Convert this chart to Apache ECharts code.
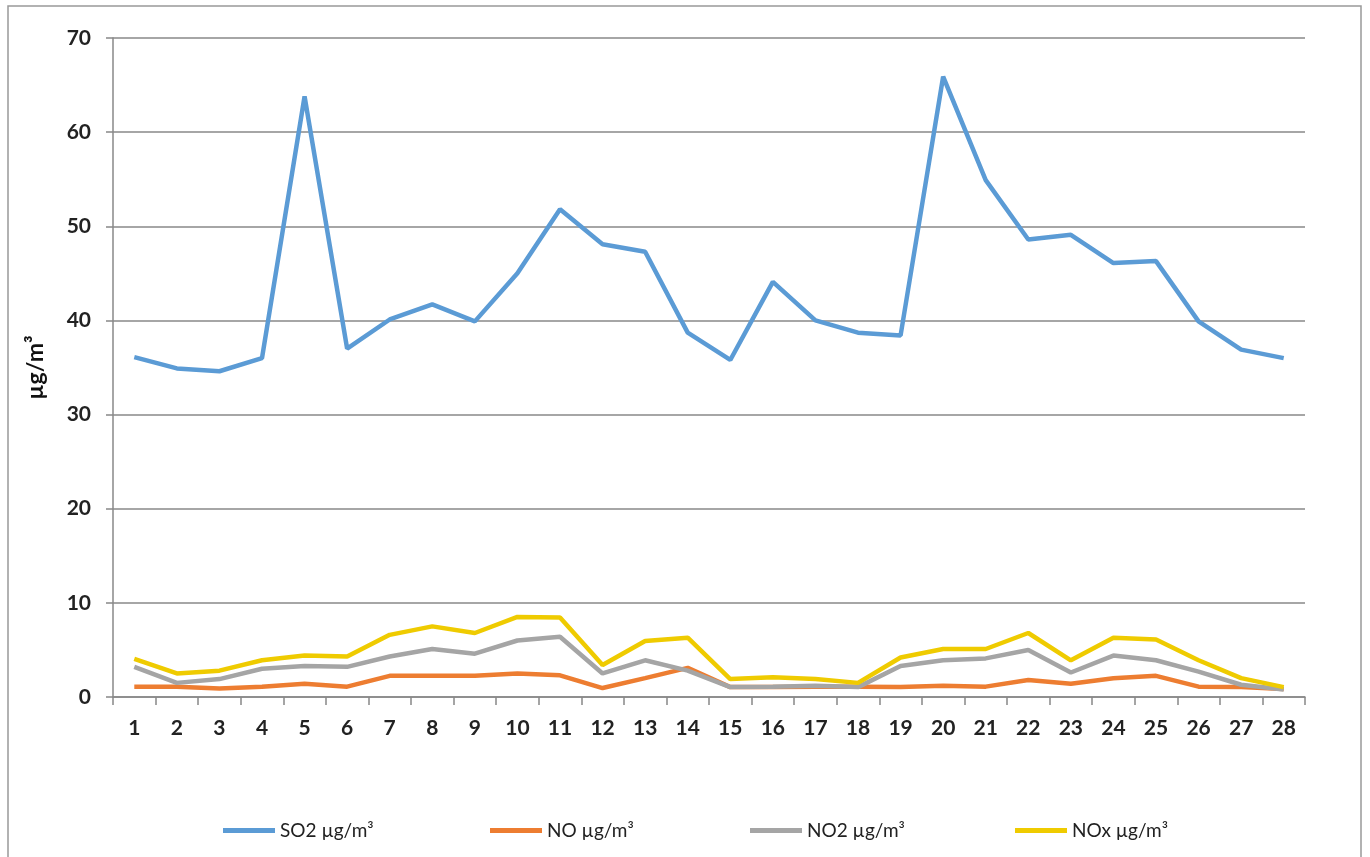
<!DOCTYPE html>
<html>
<head>
<meta charset="utf-8">
<script src="https://cdn.jsdelivr.net/npm/echarts@6/dist/echarts.min.js"></script>
<style>
  html, body { margin: 0; padding: 0; background: #fff; }
  #chart { width: 1370px; height: 857px; }
</style>
</head>
<body>
<div id="chart"></div>
<script>
var days = ['1', '2', '3', '4', '5', '6', '7', '8', '9', '10', '11', '12', '13', '14',
    '15', '16', '17', '18', '19', '20', '21', '22', '23', '24', '25', '26', '27', '28'];
var so2 = [36.1, 34.9, 34.6, 36.0, 63.8, 37.0, 40.1, 41.7, 39.9, 45.0, 51.8, 48.1, 47.3, 38.7,
    35.8, 44.1, 40.0, 38.7, 38.4, 65.9, 54.9, 48.6, 49.1, 46.1, 46.3, 39.9, 36.9, 36.0];
var no = [1.1, 1.1, 0.9, 1.1, 1.4, 1.1, 2.25, 2.25, 2.25, 2.5, 2.3, 0.95, 2.0, 3.1,
    1.05, 1.05, 1.1, 1.1, 1.05, 1.2, 1.1, 1.8, 1.4, 2.0, 2.25, 1.1, 1.05, 0.85];
var no2 = [3.2, 1.5, 1.9, 3.0, 3.3, 3.2, 4.3, 5.1, 4.6, 6.0, 6.4, 2.5, 3.9, 2.8,
    1.05, 1.1, 1.2, 1.05, 3.3, 3.9, 4.1, 5.0, 2.6, 4.4, 3.9, 2.7, 1.3, 0.8];
var nox = [4.05, 2.5, 2.8, 3.9, 4.4, 4.3, 6.6, 7.5, 6.8, 8.5, 8.45, 3.4, 5.95, 6.3,
    1.9, 2.1, 1.9, 1.5, 4.2, 5.1, 5.1, 6.8, 3.9, 6.3, 6.1, 3.9, 2.0, 1.05];
var seriesNames = ['SO2 µg/m³', 'NO µg/m³', 'NO2 µg/m³', 'NOx µg/m³'];
var seriesColors = ['#5B9BD5', '#ED7D31', '#A5A5A5', '#EFCB00'];
var legendLeft = [218, 485, 745, 1010];

var font = 'Lato, "Open Sans", sans-serif';

function makeLine(idx, data) {
    return {
        name: seriesNames[idx],
        type: 'line',
        data: data,
        showSymbol: false,
        symbol: 'none',
        lineStyle: { width: 4.5, color: seriesColors[idx] },
        itemStyle: { color: seriesColors[idx] },
        z: 2 + idx,
        animation: false
    };
}

var legends = seriesNames.map(function (name, i) {
    return {
        data: [name],
        left: legendLeft[i],
        top: 816,
        icon: 'rect',
        itemWidth: 52,
        itemHeight: 5,
        itemGap: 8,
        textStyle: { fontFamily: font, fontSize: 19, color: '#222' }
    };
});

var option = {
    backgroundColor: '#fff',
    animation: false,
    graphic: [{
        type: 'rect',
        shape: { x: 8, y: 6, width: 1353, height: 870 },
        style: { fill: 'none', stroke: '#999', lineWidth: 1.5 },
        silent: true
    }],
    legend: legends,
    grid: { left: 113, right: 65, top: 38, bottom: 160 },
    xAxis: {
        type: 'category',
        data: days,
        boundaryGap: true,
        axisLine: { lineStyle: { color: '#888', width: 1.5 } },
        axisTick: { show: true, length: 8, lineStyle: { color: '#888', width: 1.5 } },
        axisLabel: { margin: 21, fontFamily: font, fontSize: 21, fontWeight: 'bold', color: '#222' }
    },
    yAxis: {
        type: 'value',
        min: 0,
        max: 70,
        interval: 10,
        name: 'µg/m³',
        nameLocation: 'middle',
        nameGap: 66,
        nameTextStyle: { fontFamily: font, fontSize: 23, fontWeight: 'bold', color: '#111' },
        axisLine: { show: true, lineStyle: { color: '#888', width: 1.5 } },
        axisTick: { show: true, length: 7, lineStyle: { color: '#888', width: 1.5 } },
        splitLine: { lineStyle: { color: '#888', width: 1.5 } },
        axisLabel: { margin: 22, fontFamily: font, fontSize: 21, fontWeight: 'bold', color: '#222' }
    },
    series: [
        makeLine(0, so2),
        makeLine(1, no),
        makeLine(2, no2),
        makeLine(3, nox)
    ]
};

var chart = echarts.init(document.getElementById('chart'));
chart.setOption(option);
</script>
</body>
</html>
